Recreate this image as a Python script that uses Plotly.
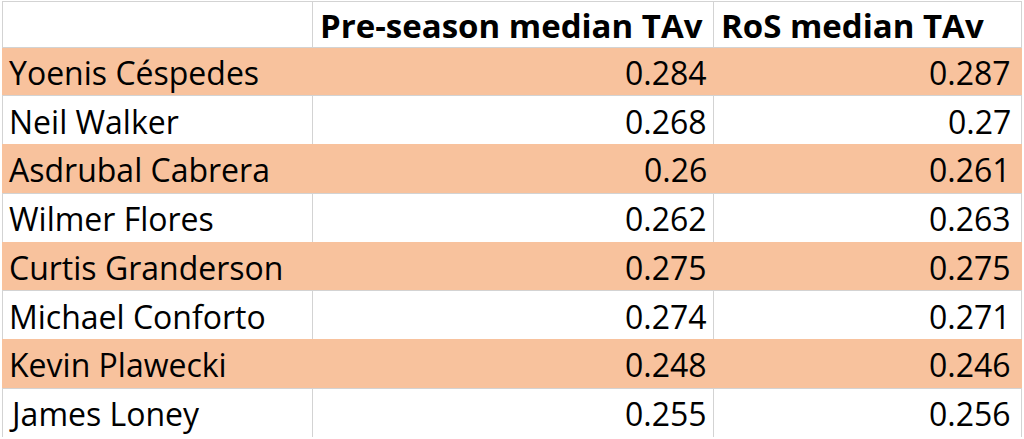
import plotly.graph_objects as go

players = ["Yoenis Céspedes", "Neil Walker", "Asdrubal Cabrera", "Wilmer Flores",
           "Curtis Granderson", "Michael Conforto", "Kevin Plawecki", "James Loney"]
preseason = ["0.284", "0.268", "0.26", "0.262", "0.275", "0.274", "0.248", "0.255"]
ros = ["0.287", "0.27", "0.261", "0.263", "0.275", "0.271", "0.246", "0.256"]
headers = ["", "Pre-season median TAv", "RoS median TAv"]

ORANGE = "#F8C29D"
WHITE = "#FFFFFF"
GRID = "#D3D3D3"
FONT = "Open Sans, sans-serif"
FS = 32
FS_HEAD = 33

W, H = 1024, 439
n = len(players)
colw = [310, 401, 308]
left_px, top, bottom, head_h = 2, 1, 437, 46
row_h = (bottom - top - head_h) / n
pad_left = 5
pad_head = 6
pad_right = [4, 4, 8]
text_dy = 1

edges = [left_px]
for w in colw:
    edges.append(edges[-1] + w)

row_fill = [ORANGE if i % 2 == 0 else WHITE for i in range(n)]
row_line = [ORANGE if i % 2 == 0 else GRID for i in range(n)]

# grid / fill layer
grid = go.Table(
    domain=dict(x=[edges[0] / W, edges[-1] / W], y=[1 - bottom / H, 1 - top / H]),
    columnwidth=colw,
    header=dict(values=["", "", ""], fill_color=WHITE,
                line=dict(color=GRID, width=1), font=dict(size=8), height=head_h),
    cells=dict(values=[[""] * n] * 3, fill_color=[row_fill] * 3,
               line=dict(color=[row_line] * 3, width=1), font=dict(size=8), height=row_h),
)

fig = go.Figure([grid])


def px(x):
    return x / W


def py(y):
    return 1 - y / H


# text layer: paper-referenced annotations (drawn above the table)
row_centers = [top + head_h + row_h * (i + 0.5) + text_dy for i in range(n)]
head_center = top + head_h / 2 + text_dy

annotations = []
body_font = dict(family=FONT, size=FS, color="black")
head_font = dict(family=FONT, size=FS_HEAD, color="black")
common = dict(xref="paper", yref="paper", yanchor="middle", showarrow=False)
for name, yc in zip(players, row_centers):
    annotations.append(dict(x=px(edges[0] + pad_left), y=py(yc), text=name,
                            xanchor="left", font=body_font, **common))
for ci, vals in ((1, preseason), (2, ros)):
    for v, yc in zip(vals, row_centers):
        annotations.append(dict(x=px(edges[ci + 1] - pad_right[ci]), y=py(yc), text=v,
                                xanchor="right", font=body_font, **common))
for ci in (1, 2):
    annotations.append(dict(x=px(edges[ci] + pad_head), y=py(head_center),
                            text="<b>%s</b>" % headers[ci], xanchor="left",
                            font=head_font, **common))

fig.update_layout(
    width=W, height=H, margin=dict(l=0, r=0, t=0, b=0),
    paper_bgcolor="white",
    annotations=annotations,
)

fig.write_html("out.html", config=dict(displayModeBar=False),
               post_script="document.body.style.margin='0';")
